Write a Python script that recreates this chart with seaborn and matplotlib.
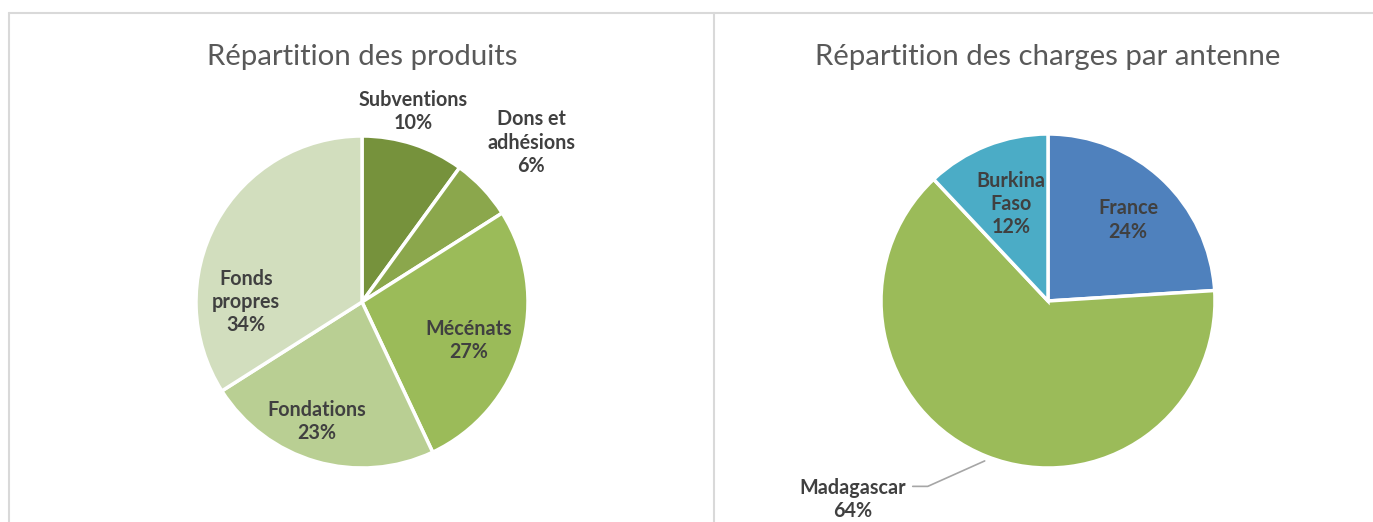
import numpy as np
import seaborn as sns
import matplotlib.pyplot as plt
from matplotlib.lines import Line2D

# data
produits_labels = ['Subventions', 'Dons et\nadhésions', 'Mécénats', 'Fondations', 'Fonds\npropres']
produits_values = [10, 6, 27, 23, 34]
produits_colors = ['#76923C', '#8BA74C', '#9BBB59', '#B9CF93', '#D2DEBE']

charges_labels = ['France', 'Madagascar', 'Burkina\nFaso']
charges_values = [24, 64, 12]
charges_colors = ['#4F81BD', '#9BBB59', '#4BACC6']

sns.set_theme(style='white')
plt.rcParams['font.family'] = ['Lato', 'DejaVu Sans']

W, H = 1373, 522
fig = plt.figure(figsize=(W / 100, H / 100), dpi=100)


def pie_axes(cx, cy, r):
    return fig.add_axes([(cx - r) / W, (H - cy - r) / H, 2 * r / W, 2 * r / H])


def draw_pie(ax, values, colors):
    ax.pie(values, colors=colors, startangle=90, counterclock=False, radius=1,
           wedgeprops=dict(edgecolor='white', linewidth=2.5))
    ax.set_xlim(-1, 1)
    ax.set_ylim(-1, 1)
    ax.set_aspect('equal')
    ax.axis('off')


lab_style = dict(ha='center', va='center', fontsize=14.2, fontweight='bold',
                 color='#404040', linespacing=1.2)

# left pie
ax1 = pie_axes(362, 302, 166)
draw_pie(ax1, produits_values, produits_colors)
left_pos = [(0.31, 1.15), (1.02, 0.96), (0.64, -0.23), (-0.27, -0.72), (-0.70, 0.0)]
for lab, v, (x, y) in zip(produits_labels, produits_values, left_pos):
    ax1.text(x, y, f'{lab}\n{v}%', clip_on=False, **lab_style)

# right pie
ax2 = pie_axes(1048, 301, 167)
draw_pie(ax2, charges_values, charges_colors)
right_pos = [(0.48, 0.485), (-1.17, -1.19), (-0.22, 0.58)]
for lab, v, (x, y) in zip(charges_labels, charges_values, right_pos):
    ax2.text(x, y, f'{lab}\n{v}%', clip_on=False, **lab_style)

# leader line for Madagascar
mid = (charges_values[0] + charges_values[1] / 2) / sum(charges_values) * 2 * np.pi
px, py = np.sin(mid), np.cos(mid)
ax2.plot([-0.81, -0.72, px * 1.03], [-1.11, -1.11, py * 1.03], color='#A6A6A6',
         lw=1.2, clip_on=False)

# titles
fig.text(362 / W, 1 - 57 / H, 'Répartition des produits', ha='center', va='center',
         fontsize=21.2, color='#595959')
fig.text(1048 / W, 1 - 57 / H, 'Répartition des charges par antenne', ha='center',
         va='center', fontsize=21.2, color='#595959')

# panel borders
border = dict(color='#D9D9D9', lw=1.5, transform=fig.transFigure)
fig.add_artist(Line2D([9 / W, 1], [1 - 13 / H, 1 - 13 / H], **border))
fig.add_artist(Line2D([9 / W, 9 / W], [0, 1 - 13 / H], **border))
fig.add_artist(Line2D([714 / W, 714 / W], [0, 1 - 13 / H], **border))

fig.savefig('out.png', dpi=100, facecolor='white')
